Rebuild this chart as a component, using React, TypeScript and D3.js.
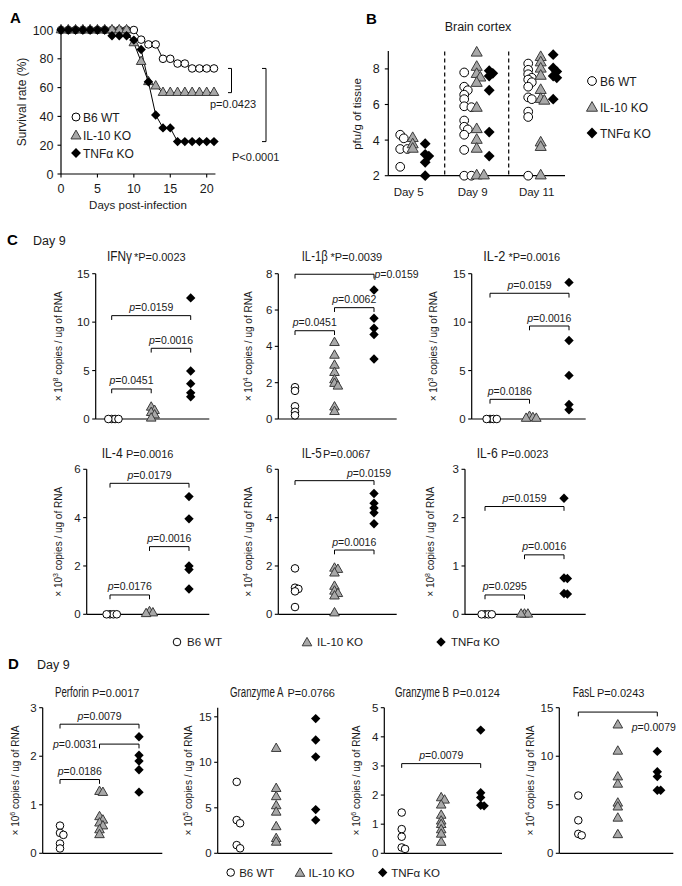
import React from 'react';
import * as d3 from 'd3';

const FONT = '"Liberation Sans", Arial, Helvetica, sans-serif';
const INK = '#1a1a1a';
const TRI_FILL = '#a8a8a8';
const TRI_STROKE = '#3a3a3a';

// ---------------- Panel A data ----------------
const survDays = [0, 1, 2, 3, 4, 5, 6, 7, 8, 9, 10, 11, 12, 13, 14, 15, 16, 17, 18, 19, 20, 21];
const survB6 = [100, 100, 100, 100, 100, 100, 100, 100, 100, 100, 100, 93.3, 90, 90, 80, 80, 76.7, 76.7, 73.3, 73.3, 73.3, 73.3];
const survIL10 = [100, 100, 100, 100, 100, 100, 100, 100, 100, 100, 91, 78, 64, 61, 56.5, 56.5, 56.5, 56.5, 56.5, 56.5, 56.5, 56.5];
const survTNF = [100, 100, 100, 100, 100, 100, 100, 96, 96, 96, 93, 86.5, 64, 41, 32, 32, 22.5, 22.5, 22.5, 22.5, 22.5, 22.5];
const survXTicks = [0, 5, 10, 15, 20];
const survYTicks = [0, 20, 40, 60, 80, 100];
const survPvals = ['p=0.0423', 'P<0.0001'];

const groupNames = ['B6 WT', 'IL-10 KO', 'TNFα KO'];

// ---------------- Panel B data ----------------
const bDays = ['Day 5', 'Day 9', 'Day 11'];
const bTicks = [2, 4, 6, 8];
const bB6 = [
  [4.3, 4.1, 3.5, 3.5, 2.5],
  [7.8, 7.0, 6.8, 6.55, 6.3, 5.9, 5.85, 5.1, 4.75, 4.6, 4.3, 3.45, 2.0, 2.0],
  [8.3, 7.95, 7.7, 7.5, 7.4, 7.25, 7.0, 6.4, 6.3, 5.6, 5.3, 2.0],
];
const bIL10 = [
  [4.1, 3.75, 3.5],
  [8.9, 8.1, 7.7, 7.5, 7.2, 5.8, 4.6, 4.0, 3.5, 2.0, 2.0],
  [8.65, 8.35, 8.0, 7.6, 6.8, 6.3, 6.2, 3.85, 3.6, 2.0],
];
const bTNF = [
  [3.8, 3.2, 3.1, 2.75, 2.0],
  [7.9, 7.75, 7.6, 6.8, 4.45, 3.1],
  [8.8, 8.05, 7.85, 7.6, 7.5, 6.3],
];

// ---------------- Panel C data ----------------
const ifngB6 = [0, 0, 0, 0];
const ifngIL10 = [1.2, 0.86, 0.65, 0.4, 0.07];
const ifngTNF = [12.5, 4.95, 3.65, 2.7, 2.3];
const il1bB6 = [1.75, 1.55, 0.7, 0.4, 0.2];
const il1bIL10 = [4.2, 3.5, 2.95, 2.55, 2.15, 1.95, 1.8, 0.65, 0.4];
const il1bTNF = [7.1, 5.55, 5.0, 4.65, 3.3];
const il2B6 = [0, 0, 0, 0];
const il2IL10 = [0.25, 0.12, 0.05, 0.05];
const il2TNF = [14.1, 8.1, 4.5, 1.5, 0.95];
const il4B6 = [0, 0, 0, 0];
const il4IL10 = [0.1, 0.05, 0.02];
const il4TNF = [4.87, 3.95, 2.0, 1.85, 1.05];
const il5B6 = [1.9, 1.1, 1.05, 0.95, 0.3];
const il5IL10 = [1.9, 1.85, 1.7, 1.15, 0.95, 0.85, 0.75, 0.05];
const il5TNF = [5.0, 4.6, 4.4, 4.2, 3.75];
const il6B6 = [0, 0, 0, 0];
const il6IL10 = [0, 0, 0];
const il6TNF = [2.4, 0.75, 0.74, 0.43, 0.42];

// ---------------- Panel D data ----------------
const perfB6 = [0.57, 0.42, 0.38, 0.2, 0.1];
const perfIL10 = [1.27, 1.25, 0.75, 0.68, 0.62, 0.56, 0.48, 0.38];
const perfTNF = [2.4, 2.02, 1.9, 1.72, 1.26];
const gzaB6 = [7.85, 3.65, 3.3, 0.9, 0.55];
const gzaIL10 = [11.5, 7.1, 6.2, 5.2, 4.5, 2.9, 1.6, 1.2];
const gzaTNF = [14.8, 12.45, 10.6, 4.8, 3.65];
const gzbB6 = [1.4, 0.83, 0.57, 0.2, 0.15];
const gzbIL10 = [1.9, 1.82, 1.65, 1.3, 1.1, 0.98, 0.8, 0.65, 0.37];
const gzbTNF = [4.23, 2.08, 1.92, 1.65, 1.63];
const faslB6 = [5.95, 3.4, 2.0, 1.85];
const faslIL10 = [13.2, 10.5, 7.85, 7.1, 5.15, 4.75, 3.6, 1.9];
const faslTNF = [10.5, 8.4, 7.9, 6.5, 6.5];

// brackets: groups compared, height in axis units, p value, label placement
const ifngBrackets = [
  { from: 0, to: 1, y: 3.1, p: '0.0451', place: 'above' },
  { from: 1, to: 2, y: 7.3, p: '0.0016', place: 'above' },
  { from: 0, to: 2, y: 10.67, p: '0.0159', place: 'above' },
];
const il1bBrackets = [
  { from: 0, to: 1, y: 4.86, p: '0.0451', place: 'above' },
  { from: 1, to: 2, y: 6.13, p: '0.0062', place: 'above' },
  { from: 0, to: 2, y: 7.97, p: '0.0159', place: 'right' },
];
const il2Brackets = [
  { from: 0, to: 1, y: 2.03, p: '0.0186', place: 'above' },
  { from: 1, to: 2, y: 9.6, p: '0.0016', place: 'above' },
  { from: 0, to: 2, y: 12.98, p: '0.0159', place: 'above' },
];
const il4Brackets = [
  { from: 0, to: 1, y: 0.8, p: '0.0176', place: 'above' },
  { from: 1, to: 2, y: 2.8, p: '0.0016', place: 'above' },
  { from: 0, to: 2, y: 5.42, p: '0.0179', place: 'above' },
];
const il5Brackets = [
  { from: 1, to: 2, y: 2.66, p: '0.0016', place: 'above' },
  { from: 0, to: 2, y: 5.53, p: '0.0159', place: 'aboveEnd' },
];
const il6Brackets = [
  { from: 0, to: 1, y: 0.4, p: '0.0295', place: 'above' },
  { from: 1, to: 2, y: 1.23, p: '0.0016', place: 'above' },
  { from: 0, to: 2, y: 2.23, p: '0.0159', place: 'above' },
];
const perfBrackets = [
  { from: 0, to: 1, y: 1.52, p: '0.0186', place: 'above' },
  { from: 1, to: 2, y: 2.25, p: '0.0031', place: 'left' },
  { from: 0, to: 2, y: 2.66, p: '0.0079', place: 'above' },
];
const gzaBrackets: any[] = [];
const gzbBrackets = [{ from: 0, to: 2, y: 3.08, p: '0.0079', place: 'above' }];
const faslBrackets = [{ from: 0, to: 2, y: 14.55, p: '0.0079', place: 'below' }];

const cSpecs = [
  { name: 'IFNγ', p: '*P=0.0023', exp: '8', max: 15, ticks: [0, 5, 10, 15], data: [ifngB6, ifngIL10, ifngTNF], br: ifngBrackets },
  { name: 'IL-1β', p: '*P=0.0039', exp: '4', max: 8, ticks: [0, 2, 4, 6, 8], data: [il1bB6, il1bIL10, il1bTNF], br: il1bBrackets },
  { name: 'IL-2', p: '*P=0.0016', exp: '3', max: 15, ticks: [0, 5, 10, 15], data: [il2B6, il2IL10, il2TNF], br: il2Brackets },
  { name: 'IL-4', p: 'P=0.0016', exp: '3', max: 6, ticks: [0, 2, 4, 6], data: [il4B6, il4IL10, il4TNF], br: il4Brackets },
  { name: 'IL-5', p: 'P=0.0067', exp: '4', max: 6, ticks: [0, 2, 4, 6], data: [il5B6, il5IL10, il5TNF], br: il5Brackets },
  { name: 'IL-6', p: 'P=0.0023', exp: '8', max: 3, ticks: [0, 1, 2, 3], data: [il6B6, il6IL10, il6TNF], br: il6Brackets },
];
const dSpecs = [
  { name: 'Perforin', p: 'P=0.0017', exp: '6', max: 3, ticks: [0, 1, 2, 3], data: [perfB6, perfIL10, perfTNF], br: perfBrackets },
  { name: 'Granzyme A', p: 'P=0.0766', exp: '5', max: 16, ticks: [0, 5, 10, 15], data: [gzaB6, gzaIL10, gzaTNF], br: gzaBrackets },
  { name: 'Granzyme B', p: 'P=0.0124', exp: '6', max: 5, ticks: [0, 1, 2, 3, 4, 5], data: [gzbB6, gzbIL10, gzbTNF], br: gzbBrackets },
  { name: 'FasL', p: 'P=0.0243', exp: '4', max: 15, ticks: [0, 5, 10, 15], data: [faslB6, faslIL10, faslTNF], br: faslBrackets },
];

// ---------------- Layout (pixels) ----------------
const rowC1 = { y0: 419, yT: 273.7, tY: 261 };
const rowC2 = { y0: 614.3, yT: 469.3, tY: 458 };
const rowD = { y0: 853.3, yT: 707.7, tY: 697 };
const layoutC = [
  { ...rowC1, x0: 95.7, x1: 209.3, g0: 111.7, tX: 107, tW: 25, pX: 134, yLab: 58 },
  { ...rowC1, x0: 278.3, x1: 396.7, g0: 295, tX: 301.7, tW: 26, pX: 330.5, yLab: 248.3 },
  { ...rowC1, x0: 471.7, x1: 585.7, g0: 490, tX: 483.3, tW: 22, pX: 508.5, yLab: 433.3 },
  { ...rowC2, x0: 86.7, x1: 209.3, g0: 110, tX: 101.7, tW: 21, pX: 126, yLab: 58.3 },
  { ...rowC2, x0: 278.3, x1: 396.7, g0: 295, tX: 301.7, tW: 20, pX: 323, yLab: 248.3 },
  { ...rowC2, x0: 465, x1: 585.7, g0: 485, tX: 476.7, tW: 21, pX: 501, yLab: 430.7 },
];
const layoutD = [
  { ...rowD, x0: 42.7, x1: 162.3, g0: 60, tX: 55, tW: 34, pX: 92, yLab: 15 },
  { ...rowD, x0: 217.7, x1: 332.3, g0: 236.7, tX: 230, tW: 54, pX: 287.5, yLab: 188.3 },
  { ...rowD, x0: 384.3, x1: 502, g0: 401.7, tX: 395, tW: 54, pX: 452.5, yLab: 356.7 },
  { ...rowD, x0: 559.3, x1: 673.3, g0: 578.3, tX: 572.7, tW: 22, pX: 597, yLab: 530 },
];

// ---------------- Helpers ----------------
let measureCtx: CanvasRenderingContext2D | null = null;
function textWidth(s: string, size: number): number {
  if (!measureCtx && typeof document !== 'undefined') {
    measureCtx = document.createElement('canvas').getContext('2d');
  }
  if (!measureCtx) return s.length * size * 0.55;
  measureCtx.font = `${size}px "Liberation Sans", Arial, sans-serif`;
  return measureCtx.measureText(s).width || s.length * size * 0.55;
}

function dodge(ys: number[], step: number, minDist: number): number[] {
  const placed: [number, number][] = [];
  return ys.map((py) => {
    for (let i = 0; i < 60; i++) {
      const k = i === 0 ? 0 : i % 2 === 1 ? (i + 1) / 2 : -i / 2;
      const dx = k * step;
      if (placed.every(([px, pyy]) => Math.hypot(px - dx, pyy - py) >= minDist)) {
        placed.push([dx, py]);
        return dx;
      }
    }
    return 0;
  });
}

function Marker({ shape, x, y, k = 1 }: { shape: number; x: number; y: number; k?: number }) {
  if (shape === 0) return <circle cx={x} cy={y} r={3.8 * k} fill="#fff" stroke="#000" strokeWidth={1} />;
  if (shape === 1) {
    const w = 9.6 * k;
    const h = 8.4 * k;
    return (
      <path
        d={`M${x},${y - (h * 2) / 3}L${x + w / 2},${y + h / 3}L${x - w / 2},${y + h / 3}Z`}
        fill={TRI_FILL}
        stroke={TRI_STROKE}
        strokeWidth={1}
      />
    );
  }
  const s = 4.7 * k;
  return <path d={`M${x},${y - s}L${x + s},${y}L${x},${y + s}L${x - s},${y}Z`} fill="#000" />;
}

function YAxis({ x, scale, ticks, fs = 11.5, tickLen = 3.5, gap = 6 }: any) {
  const [d0, d1] = scale.domain();
  return (
    <g>
      <line x1={x} x2={x} y1={scale(d0)} y2={scale(d1)} stroke="#000" strokeWidth={1.2} />
      {ticks.map((t: number) => (
        <g key={t}>
          <line x1={x - tickLen} x2={x} y1={scale(t)} y2={scale(t)} stroke="#000" strokeWidth={1.1} />
          <text x={x - gap} y={scale(t) + fs * 0.36} textAnchor="end" fontSize={fs} fill={INK}>
            {t}
          </text>
        </g>
      ))}
    </g>
  );
}

function PLabel({ x, y, p, anchor }: any) {
  return (
    <text x={x} y={y} textAnchor={anchor} fontSize={10.5} fill={INK}>
      <tspan fontStyle="italic">p</tspan>={p}
    </text>
  );
}

function DotPanel({ spec, L }: any) {
  const y = d3.scaleLinear().domain([0, spec.max]).range([L.y0, L.yT]);
  const gx = d3.scalePoint<number>().domain([0, 1, 2]).range([L.g0, L.g0 + 79]);
  const yMid = (L.y0 + L.yT) / 2;
  const natural = textWidth(spec.name, 14);
  const sx = Math.min(1, L.tW / natural);
  return (
    <g>
      <text transform={`translate(${L.tX},${L.tY}) scale(${sx},1)`} x={0} y={0} fontSize={14} fill={INK}>
        {spec.name}
      </text>
      <text x={L.pX} y={L.tY} fontSize={11} fill={INK}>
        {spec.p}
      </text>
      <g transform={`translate(${L.yLab},${yMid}) rotate(-90)`}>
        <text x={0} y={3.5} textAnchor="middle" fontSize={10} fill={INK}>
          × 10
          <tspan dy={-4} fontSize={7}>
            {spec.exp}
          </tspan>
          <tspan dy={4}> copies / ug of RNA</tspan>
        </text>
      </g>
      <YAxis x={L.x0} scale={y} ticks={spec.ticks} />
      <line x1={L.x0} x2={L.x1} y1={L.y0} y2={L.y0} stroke="#000" strokeWidth={1.2} />
      {spec.data.map((vals: number[], gi: number) => {
        const pys = vals.map((v) => y(v));
        const offs = dodge(pys, 3.4, 3.4);
        return vals.map((v, i) => <Marker key={`${gi}-${i}`} shape={gi} x={(gx(gi) as number) + offs[i]} y={pys[i]} />);
      })}
      {spec.br.map((b: any, i: number) => {
        const xa = gx(b.from) as number;
        const xb = gx(b.to) as number;
        const yb = y(b.y);
        let lab;
        if (b.place === 'above') lab = <PLabel x={(xa + xb) / 2} y={yb - 4.5} p={b.p} anchor="middle" />;
        else if (b.place === 'right') lab = <PLabel x={xb + 0.5} y={yb + 3.5} p={b.p} anchor="start" />;
        else if (b.place === 'left') lab = <PLabel x={xa - 2.5} y={yb + 4} p={b.p} anchor="end" />;
        else if (b.place === 'aboveEnd') lab = <PLabel x={xb - 5} y={yb - 4} p={b.p} anchor="middle" />;
        else lab = <PLabel x={xb - 3.5} y={yb + 19} p={b.p} anchor="middle" />;
        return (
          <g key={i}>
            <path d={`M${xa},${yb + 4.3}V${yb}H${xb}V${yb + 4.3}`} fill="none" stroke="#000" strokeWidth={1} />
            {lab}
          </g>
        );
      })}
    </g>
  );
}

function Legend({ y, xs, gap }: { y: number; xs: number[]; gap: number }) {
  return (
    <g>
      {groupNames.map((n, i) => (
        <g key={n}>
          <Marker shape={i} x={xs[i]} y={i === 1 ? y + 1 : y} />
          <text x={xs[i] + gap} y={y + 4.2} fontSize={11.5} fill={INK}>
            {n}
          </text>
        </g>
      ))}
    </g>
  );
}

function PanelA() {
  const x = d3.scaleLinear().domain([0, 20]).range([61, 206.7]);
  const y = d3.scaleLinear().domain([0, 100]).range([174, 30]);
  const series = [survB6, survIL10, survTNF];
  const line = d3
    .line<number>()
    .x((_, i) => x(survDays[i]))
    .y((v) => y(v));
  const last = series.map((s) => s[s.length - 1]);
  return (
    <g>
      <text x={10} y={23} fontSize={15} fontWeight="bold" fill="#000">
        A
      </text>
      {series.map((s, si) => (
        <path key={si} d={line(s) || ''} fill="none" stroke="#000" strokeWidth={1} />
      ))}
      {series.map((s, si) => s.map((v, i) => <Marker key={`${si}-${i}`} shape={si} x={x(survDays[i])} y={y(v)} k={1.0} />))}
      <YAxis x={61} scale={y} ticks={survYTicks} fs={12.5} gap={7.5} tickLen={3.5} />
      <line x1={61} x2={x(21.2)} y1={174} y2={174} stroke="#000" strokeWidth={1.2} />
      {survXTicks.map((t) => (
        <g key={t}>
          <line x1={x(t)} x2={x(t)} y1={174} y2={177.5} stroke="#000" strokeWidth={1.1} />
          <text x={x(t)} y={193} textAnchor="middle" fontSize={12.5} fill={INK}>
            {t}
          </text>
        </g>
      ))}
      <text x={138} y={208.5} textAnchor="middle" fontSize={11.5} fill={INK}>
        Days post-infection
      </text>
      <g transform={`translate(22,102) rotate(-90)`}>
        <text x={0} y={4} textAnchor="middle" fontSize={12} fill={INK}>
          Survival rate (%)
        </text>
      </g>
      {groupNames.map((n, i) => (
        <g key={n}>
          <Marker shape={i} x={76} y={117 + i * 18 + (i === 1 ? 1 : 0)} k={1.05} />
          <text x={83} y={121.5 + i * 18} fontSize={12} fill={INK}>
            {n}
          </text>
        </g>
      ))}
      <path d={`M228,${y(last[0])}H231.5V${y(last[1])}H228`} fill="none" stroke="#000" strokeWidth={1} />
      <text x={210} y={108} fontSize={11} fill={INK}>
        {survPvals[0]}
      </text>
      <path d={`M262,${y(last[0])}H266V${y(last[2])}H262`} fill="none" stroke="#000" strokeWidth={1} />
      <text x={232} y={161} fontSize={11} fill={INK}>
        {survPvals[1]}
      </text>
    </g>
  );
}

function PanelB() {
  const y = d3.scaleLinear().domain([2, 9]).range([175.7, 51.1]);
  const xc = d3.scalePoint<string>().domain(bDays).range([412.7, 540.7]);
  const sub = [-12.5, 0, 12.5];
  const data = [bB6, bIL10, bTNF];
  const centers = bDays.map((d) => xc(d) as number);
  return (
    <g>
      <text x={366} y={24} fontSize={15} fontWeight="bold" fill="#000">
        B
      </text>
      <text x={478} y={31} textAnchor="middle" fontSize={12.5} fill={INK}>
        Brain cortex
      </text>
      <g transform={`translate(357,114) rotate(-90)`}>
        <text x={0} y={4} textAnchor="middle" fontSize={11.5} fill={INK}>
          pfu/g of tissue
        </text>
      </g>
      {[0, 1].map((i) => {
        const xm = (centers[i] + centers[i + 1]) / 2;
        return <line key={i} x1={xm} x2={xm} y1={51.5} y2={175.7} stroke="#000" strokeWidth={1.2} strokeDasharray="4,3" />;
      })}
      <YAxis x={388.3} scale={y} ticks={bTicks} fs={12.5} gap={8.5} tickLen={3.5} />
      <line x1={388.3} x2={565} y1={175.7} y2={175.7} stroke="#000" strokeWidth={1.2} />
      {bDays.map((d, di) => (
        <text key={d} x={centers[di] - 4} y={196} textAnchor="middle" fontSize={11.5} fill={INK}>
          {d}
        </text>
      ))}
      {bDays.map((d, di) =>
        data.map((g, gi) => {
          const vals = g[di];
          const pys = vals.map((v) => y(v));
          const offs = dodge(pys, 3.6, 4);
          return vals.map((v, i) => (
            <Marker key={`${di}-${gi}-${i}`} shape={gi} x={centers[di] + sub[gi] + offs[i]} y={pys[i]} k={1.15} />
          ));
        })
      )}
      {groupNames.map((n, i) => (
        <g key={n}>
          <Marker shape={i} x={592} y={81 + i * 26 + (i === 1 ? 1 : 0)} k={1.15} />
          <text x={600} y={85.5 + i * 26} fontSize={12} fill={INK}>
            {n}
          </text>
        </g>
      ))}
    </g>
  );
}

export default function App() {
  return (
    <svg
      width={682}
      height={886}
      viewBox="0 0 682 886"
      style={{ position: 'absolute', left: 0, top: 0, fontFamily: FONT }}
      fontFamily={FONT}
    >
      <rect x={0} y={0} width={682} height={886} fill="#fff" />
      <PanelA />
      <PanelB />
      <text x={7} y={245} fontSize={15} fontWeight="bold" fill="#000">
        C
      </text>
      <text x={33} y={245} fontSize={12.5} fill={INK}>
        Day 9
      </text>
      {cSpecs.map((s, i) => (
        <DotPanel key={s.name} spec={s} L={layoutC[i]} />
      ))}
      <Legend y={642} xs={[177, 307, 441]} gap={10} />
      <text x={8} y={669} fontSize={15} fontWeight="bold" fill="#000">
        D
      </text>
      <text x={37} y={669} fontSize={12.5} fill={INK}>
        Day 9
      </text>
      {dSpecs.map((s, i) => (
        <DotPanel key={s.name} spec={s} L={layoutD[i]} />
      ))}
      <Legend y={872.5} xs={[230.7, 300, 382.7]} gap={8.5} />
    </svg>
  );
}
